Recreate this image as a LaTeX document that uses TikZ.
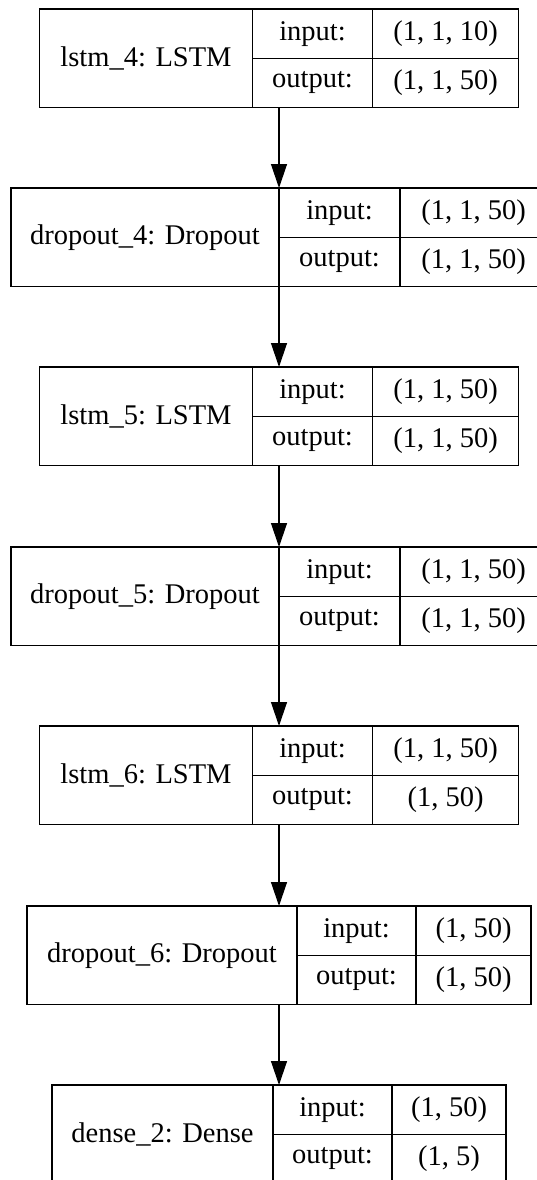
\documentclass[tikz,border=0pt]{standalone}
\usepackage{fontspec}
\setmainfont{Liberation Serif}
\usetikzlibrary{arrows.meta}

\tikzset{
    layerbox/.style={draw, line width=1.3pt, inner sep=0pt, outer sep=0pt, minimum height=98.5pt},
    cellbox/.style={draw, line width=1.3pt, inner sep=0pt, outer sep=0pt, minimum height=49.25pt,
        anchor=north west, font=\fontsize{28.5}{34}\selectfont},
    namebox/.style={cellbox, minimum height=98.5pt},
    flow/.style={line width=1.3pt, -{Triangle[length=24pt,width=16pt]}}
}

\begin{document}
\begin{tikzpicture}[x=1pt, y=-1pt]
    \useasboundingbox (0,0) rectangle (537,1180);
    \clip (0,0) rectangle (537,1180);

    % lstm_4
    \node[layerbox, minimum width=479pt] (lstm4) at (279, 58.25) {};
    \node[namebox, minimum width=213pt] (lstm4name) at (lstm4.north west) {lstm\_4: LSTM};
    \node[cellbox, minimum width=120pt] (lstm4in) at (lstm4name.north east) {input:};
    \node[cellbox, minimum width=146pt] (lstm4inv) at (lstm4in.north east) {(1, 1, 10)};
    \node[cellbox, minimum width=120pt] (lstm4out) at (lstm4in.south west) {output:};
    \node[cellbox, minimum width=146pt] (lstm4outv) at (lstm4out.north east) {(1, 1, 50)};

    % dropout_4
    \node[layerbox, minimum width=536pt] (drop4) at (279, 237.25) {};
    \node[namebox, minimum width=268pt] (drop4name) at (drop4.north west) {dropout\_4: Dropout};
    \node[cellbox, minimum width=121pt] (drop4in) at (drop4name.north east) {input:};
    \node[cellbox, minimum width=147pt] (drop4inv) at (drop4in.north east) {(1, 1, 50)};
    \node[cellbox, minimum width=121pt] (drop4out) at (drop4in.south west) {output:};
    \node[cellbox, minimum width=147pt] (drop4outv) at (drop4out.north east) {(1, 1, 50)};

    % lstm_5
    \node[layerbox, minimum width=479pt] (lstm5) at (279, 416.25) {};
    \node[namebox, minimum width=213pt] (lstm5name) at (lstm5.north west) {lstm\_5: LSTM};
    \node[cellbox, minimum width=120pt] (lstm5in) at (lstm5name.north east) {input:};
    \node[cellbox, minimum width=146pt] (lstm5inv) at (lstm5in.north east) {(1, 1, 50)};
    \node[cellbox, minimum width=120pt] (lstm5out) at (lstm5in.south west) {output:};
    \node[cellbox, minimum width=146pt] (lstm5outv) at (lstm5out.north east) {(1, 1, 50)};

    % dropout_5
    \node[layerbox, minimum width=536pt] (drop5) at (279, 596.25) {};
    \node[namebox, minimum width=268pt] (drop5name) at (drop5.north west) {dropout\_5: Dropout};
    \node[cellbox, minimum width=121pt] (drop5in) at (drop5name.north east) {input:};
    \node[cellbox, minimum width=147pt] (drop5inv) at (drop5in.north east) {(1, 1, 50)};
    \node[cellbox, minimum width=121pt] (drop5out) at (drop5in.south west) {output:};
    \node[cellbox, minimum width=147pt] (drop5outv) at (drop5out.north east) {(1, 1, 50)};

    % lstm_6
    \node[layerbox, minimum width=479pt] (lstm6) at (279, 775.25) {};
    \node[namebox, minimum width=213pt] (lstm6name) at (lstm6.north west) {lstm\_6: LSTM};
    \node[cellbox, minimum width=120pt] (lstm6in) at (lstm6name.north east) {input:};
    \node[cellbox, minimum width=146pt] (lstm6inv) at (lstm6in.north east) {(1, 1, 50)};
    \node[cellbox, minimum width=120pt] (lstm6out) at (lstm6in.south west) {output:};
    \node[cellbox, minimum width=146pt] (lstm6outv) at (lstm6out.north east) {(1, 50)};

    % dropout_6
    \node[layerbox, minimum width=504pt] (drop6) at (279, 955.25) {};
    \node[namebox, minimum width=270pt] (drop6name) at (drop6.north west) {dropout\_6: Dropout};
    \node[cellbox, minimum width=119pt] (drop6in) at (drop6name.north east) {input:};
    \node[cellbox, minimum width=115pt] (drop6inv) at (drop6in.north east) {(1, 50)};
    \node[cellbox, minimum width=119pt] (drop6out) at (drop6in.south west) {output:};
    \node[cellbox, minimum width=115pt] (drop6outv) at (drop6out.north east) {(1, 50)};

    % dense_2
    \node[layerbox, minimum width=454pt] (dense2) at (279, 1134.25) {};
    \node[namebox, minimum width=221pt] (dense2name) at (dense2.north west) {dense\_2: Dense};
    \node[cellbox, minimum width=119pt] (dense2in) at (dense2name.north east) {input:};
    \node[cellbox, minimum width=114pt] (dense2inv) at (dense2in.north east) {(1, 50)};
    \node[cellbox, minimum width=119pt] (dense2out) at (dense2in.south west) {output:};
    \node[cellbox, minimum width=114pt] (dense2outv) at (dense2out.north east) {(1, 5)};

    % connectors
    \draw[flow] (lstm4.south) -- (drop4.north);
    \draw[flow] (drop4.south) -- (lstm5.north);
    \draw[flow] (lstm5.south) -- (drop5.north);
    \draw[flow] (drop5.south) -- (lstm6.north);
    \draw[flow] (lstm6.south) -- (drop6.north);
    \draw[flow] (drop6.south) -- (dense2.north);
\end{tikzpicture}
\end{document}
